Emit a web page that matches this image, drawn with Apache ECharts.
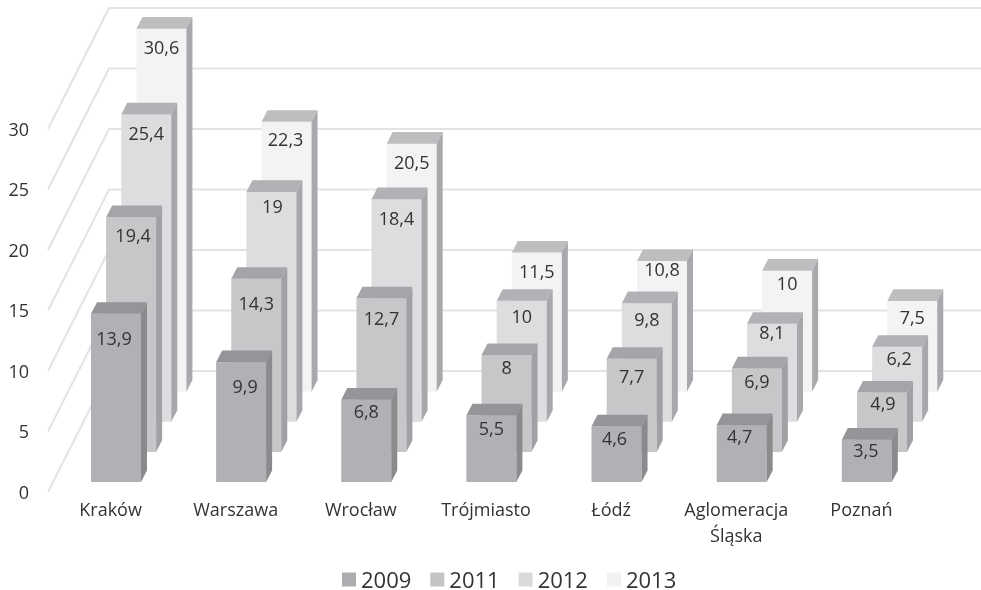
<!DOCTYPE html>
<html><head><meta charset="utf-8">
<style>html,body{margin:0;padding:0;background:#fff}#c{width:981px;height:590px}</style>
<script src="https://cdn.jsdelivr.net/npm/echarts@6/dist/echarts.min.js"></script>
</head><body><div id="c"></div>
<script>
const categories = ['Kraków','Warszawa','Wrocław','Trójmiasto','Łódź','Aglomeracja\nŚląska','Poznań'];
const years = ['2009','2011','2012','2013'];
const values2009 = [13.9,9.9,6.8,5.5,4.6,4.7,3.5];
const values2011 = [19.4,14.3,12.7,8,7.7,6.9,4.9];
const values2012 = [25.4,19,18.4,10,9.8,8.1,6.2];
const values2013 = [30.6,22.3,20.5,11.5,10.8,10,7.5];
const yTicks = [0,5,10,15,20,25,30];

const FONT = '"Open Sans"';
const TEXT = '#333333';
const AXIS_MAX = 30;
const faces = [
  {front:'#b0b1b4', cap:'#949598', side:'#8a8b8d', legend:'#acadb0'},
  {front:'#c6c7c9', cap:'#a4a5a8', side:'#a0a1a4', legend:'#c3c4c6'},
  {front:'#dcddde', cap:'#b1b2b5', side:'#a7a8ab', legend:'#d9dadb'},
  {front:'#f2f3f3', cap:'#bcbec0', side:'#a7a9ac', legend:'#f1f2f3'}
];
// hand-placed data labels: distance below bar top, and sideways shift
const labelDown = [
  [26,26,13,14,14,13,12],
  [20,26,22,14,19,14,12],
  [20,16,21,17,18,10,13],
  [20,19,20,20,10,14,18]
];
const labelSide = [
  [-2,4,0,0,-2,-2,-1],
  [2,0,0,0,0,0,1],
  [0,1,0,0,0,0,2],
  [0,-1,0,0,0,0,0]
];
const BAR_W = 50, CAT_SHIFT = -19.6, ROW_DX = 15.15, ROW_DY = -30.1, BASE_UP = 10, DEPTH_DX = 6, DEPTH_DY = -11.6;
const WALL_DX = 61, WALL_DY = -121;

function wallItem(params, api){
  const cs = params.coordSys;
  const y = api.coord([0, api.value(1)])[1];
  const x0 = cs.x, x1 = cs.x + WALL_DX, y1 = y + WALL_DY;
  return {type:'polyline', silent:true,
    shape:{points:[[x0,y],[x1,y1],[981,y1]]},
    style:{fill:null, stroke:'#e2e3e3', lineWidth:2}};
}
function barItem(row){
  return function(params, api){
    const i = api.value(0), v = api.value(1);
    const c0 = api.coord([i,0]);
    const c1 = api.coord([i,Math.min(v,AXIS_MAX)]);
    const l = c0[0] + CAT_SHIFT + row*ROW_DX, r = l + BAR_W;
    const b = c0[1] - BASE_UP + row*ROW_DY;
    const t = c1[1] - BASE_UP + row*ROW_DY;
    const f = faces[row];
    const poly = (pts,fill)=>({type:'polygon',silent:true,shape:{points:pts},style:{fill:fill}});
    return {type:'group',children:[
      poly([[l,b],[r,b],[r,t],[l,t]],f.front),
      poly([[l,t],[r,t],[r+DEPTH_DX,t+DEPTH_DY],[l+DEPTH_DX,t+DEPTH_DY]],f.cap),
      poly([[r,b],[r+DEPTH_DX,b+DEPTH_DY],[r+DEPTH_DX,t+DEPTH_DY],[r,t]],f.side),
      {type:'text',silent:true,style:{
        x:(l+r)/2+labelSide[row][params.dataIndex], y:t+labelDown[row][params.dataIndex],
        text:String(v).replace('.',','), fill:TEXT, font:'18px '+FONT,
        textAlign:'center', textVerticalAlign:'middle'}}
    ]};
  };
}
const rows = [values2009,values2011,values2012,values2013];
const option = {
  animation:false,
  backgroundColor:'#fff',
  textStyle:{fontFamily:FONT},
  grid:{left:48,width:876,top:129,height:363,containLabel:false},
  xAxis:{type:'category',data:categories,
    axisLine:{show:false},axisTick:{show:false},splitLine:{show:false},
    axisLabel:{interval:0,color:TEXT,fontSize:18,fontFamily:FONT,margin:6,lineHeight:26}},
  yAxis:{type:'value',min:0,max:AXIS_MAX,interval:5,
    axisLine:{show:false},axisTick:{show:false},splitLine:{show:false},
    axisLabel:{margin:19,formatter:'{a|{value}}',
      rich:{a:{color:TEXT,fontSize:18,fontFamily:FONT,padding:[3,0,0,0]}}}},
  legend:{left:337,top:566,icon:'rect',itemWidth:14,itemHeight:14,itemGap:19,itemStyle:{borderWidth:0},
    formatter:'{a|{name}}',
    textStyle:{color:TEXT,fontSize:22,fontFamily:FONT,
      rich:{a:{color:TEXT,fontSize:22,fontFamily:FONT,padding:[5,0,0,0]}}},
    data:years.map((y,k)=>({name:y,itemStyle:{color:faces[k].legend}}))},
  series:[
    {type:'custom',name:'grid',z:1,clip:false,silent:true,renderItem:wallItem,
      encode:{x:0,y:1},data:yTicks.map(t=>[0,t])},
    ...years.map((y,k)=>({type:'custom',name:y,z:5-k,clip:false,
      itemStyle:{color:faces[k].legend},
      renderItem:barItem(k),encode:{x:0,y:1},
      data:rows[k].map((v,i)=>[i,v])}))
  ]
};
echarts.init(document.getElementById('c'),null,{renderer:'canvas'}).setOption(option);
</script></body></html>
